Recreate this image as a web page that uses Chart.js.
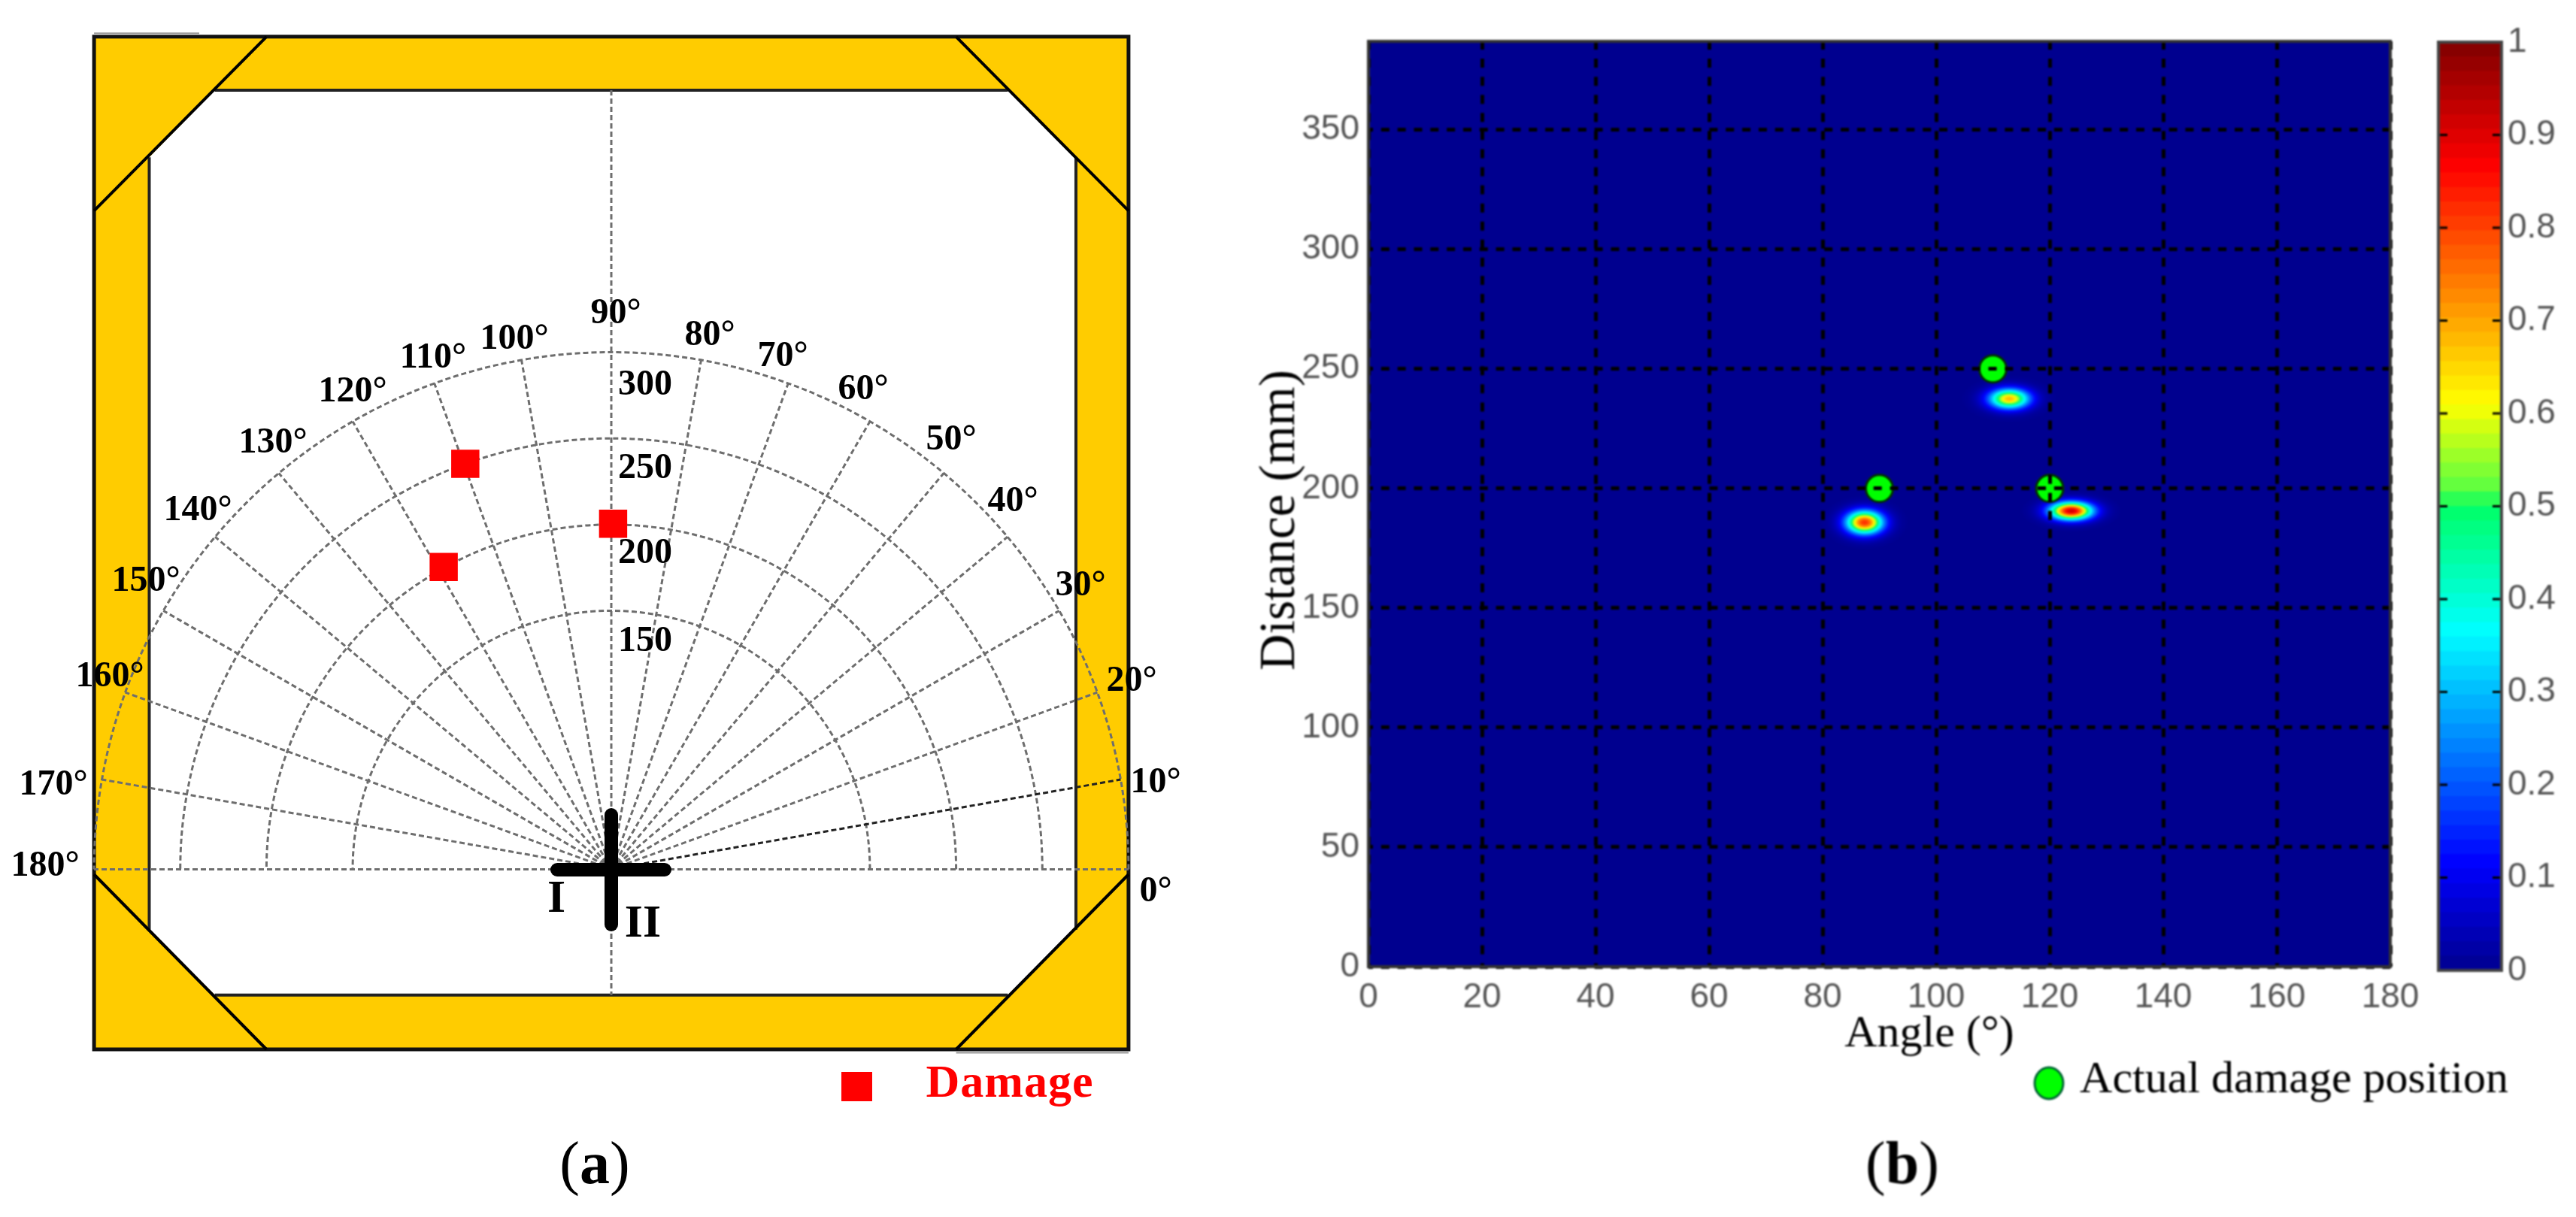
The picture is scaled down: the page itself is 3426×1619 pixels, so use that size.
<!DOCTYPE html>
<html><head><meta charset="utf-8">
<style>
html,body{margin:0;padding:0;background:#fff;width:3426px;height:1619px;overflow:hidden}
canvas{position:absolute;top:0}
#a{filter:blur(0.7px)}
#b,#c{filter:blur(1.1px)}
</style>
<script src="https://cdn.jsdelivr.net/npm/chart.js@4/dist/chart.umd.min.js"></script>
</head><body>
<canvas id="a" width="1700" height="1619" style="left:0;width:1700px;height:1619px"></canvas>
<canvas id="b" width="1786" height="1619" style="left:1640px;width:1786px;height:1619px"></canvas>
<canvas id="c" width="226" height="1619" style="left:3200px;width:226px;height:1619px"></canvas>
<script>
// ---- panel (a) values
const gridAngles = [0,10,20,30,40,50,60,70,80,90,100,110,120,130,140,150,160,170,180];
const gridRadii = [150,200,250,300];
const radiusLabels = ['300','250','200','150'];
const damageAngle = [109.8,119,89.7];
const damageDistance = [250,200.5,200.5];
// ---- panel (b) values
const angleTicks = [0,20,40,60,80,100,120,140,160,180];
const distanceTicks = [0,50,100,150,200,250,300,350];
const actualAngle = [90,110,120];
const actualDistance = [200,250,200];
const peakAngle = [87.4,112.9,123.8];
const peakDistance = [185.8,237.5,190.6];
const peakValue = [0.82,0.68,0.92];
const peakSpreadAngle = [2.22,2.43,2.55];
const peakSpreadDistance = [3.3,2.86,2.54];
// ---- colour ramp
const rampStops = [0,0.115,0.365,0.5,0.515,0.61,0.865,1];
const rampColors = [[0,0,143],[0,0,255],[0,255,255],[0,255,102],[85,255,68],[255,255,0],[255,0,0],[128,0,0]];
const RAMP_LEVELS = 64;

function ramp(v){
  v=Math.max(0,Math.min(1,v));
  for(let i=1;i<rampStops.length;i++){
    if(v<=rampStops[i]){
      const t=(v-rampStops[i-1])/(rampStops[i]-rampStops[i-1]);
      const c=rampColors[i-1].map((a,k)=>Math.round(a+(rampColors[i][k]-a)*t));
      return `rgb(${c[0]},${c[1]},${c[2]})`;
    }
  }
  return 'rgb(128,0,0)';
}
const SERIF='"Liberation Serif"', NARROW='"Liberation Sans Narrow","Liberation Sans"';
function label(ctx,text,x,y,font,color,rot){
  ctx.save();ctx.translate(x,y);if(rot)ctx.rotate(rot);
  ctx.font=font;ctx.fillStyle=color||'#000';ctx.textAlign='center';ctx.textBaseline='middle';
  ctx.fillText(text,0,0);ctx.restore();
}
function caption(ctx,letter,cx,y){
  ctx.save();ctx.textBaseline='middle';ctx.textAlign='left';ctx.fillStyle='#000';
  const reg=`80px ${SERIF}`,bold=`bold 80px ${SERIF}`;
  ctx.font=reg;const p1=ctx.measureText('(').width,p2=ctx.measureText(')').width;
  ctx.font=bold;const w=ctx.measureText(letter).width;
  let x=cx-(p1+w+p2)/2;
  ctx.font=reg;ctx.fillText('(',x,y);x+=p1;
  ctx.font=bold;ctx.fillText(letter,x,y);x+=w;
  ctx.font=reg;ctx.fillText(')',x,y);ctx.restore();
}
// label placement, in page pixels, order follows gridAngles
const angleLabelAt=[[1537,1187],[1537,1042],[1505,907],[1437,780],[1347,668],[1265,586],[1148,519],[1041,475],[944,447],[819,418],[684,452],[576,477],[469,522],[363,590],[263,680],[194,774],[146,901],[71,1045],[60,1153]];
const radiusLabelAt=[[858,513],[858,624],[858,737],[858,854]];

const platePlugin={id:'plate',beforeDatasetsDraw(chart){
  const {ctx,scales:{x,y}}=chart;
  const X=v=>x.getPixelForValue(v),Y=v=>y.getPixelForValue(v);
  const poly=(pts,close)=>{ctx.beginPath();pts.forEach((p,i)=>i?ctx.lineTo(X(p[0]),Y(p[1])):ctx.moveTo(X(p[0]),Y(p[1])));if(close)ctx.closePath();};
  ctx.save();
  // plate
  poly([[-300,483],[300,483],[300,-104.5],[-300,-104.5]],true);
  ctx.fillStyle='#FFCC00';ctx.fill();ctx.lineWidth=5;ctx.strokeStyle='#111';ctx.stroke();
  ctx.lineWidth=2;ctx.strokeStyle='#999';
  poly([[-300,485],[-239,485]]);ctx.stroke();
  poly([[200,-106.5],[300,-106.5]]);ctx.stroke();
  poly([[-230,452],[230,452],[269.5,413],[269.5,-35],[230,-73],[-230,-73],[-268,-35],[-268,413]],true);
  ctx.fillStyle='#fff';ctx.fill();
  ctx.lineWidth=4;ctx.strokeStyle='#222';
  [[[-230,452],[230,452]],[[-230,-73],[230,-73]],[[-268,413],[-268,-35]],[[269.5,413],[269.5,-35]]].forEach(s=>{poly(s);ctx.stroke();});
  ctx.strokeStyle='#000';
  [[[-200,483],[-300,382]],[[200,483],[300,382]],[[-300,-3],[-200,-104.5]],[[300,-3],[200,-104.5]]].forEach(s=>{poly(s);ctx.stroke();});
  // polar grid
  ctx.setLineDash([7,4]);ctx.lineWidth=3;ctx.strokeStyle='#6e6e6e';
  const ox=X(0),oy=Y(0);
  gridRadii.forEach(r=>{ctx.beginPath();ctx.arc(ox,oy,X(r)-ox,0,-Math.PI,true);ctx.stroke();});
  gridAngles.forEach(a=>{
    if(a===90)return;
    const t=a*Math.PI/180,r0=300;
    ctx.strokeStyle=a===10?'#222':'#6e6e6e';
    ctx.beginPath();ctx.moveTo(ox,oy);ctx.lineTo(X(r0*Math.cos(t)),Y(r0*Math.sin(t)));ctx.stroke();
  });
  ctx.strokeStyle='#6e6e6e';
  poly([[0,452],[0,-73]]);ctx.stroke();
  ctx.setLineDash([]);
  // sensor cross
  ctx.strokeStyle='#000';ctx.lineWidth=18;ctx.lineCap='round';
  ctx.beginPath();ctx.moveTo(741,1157);ctx.lineTo(884,1157);ctx.stroke();
  ctx.beginPath();ctx.moveTo(813,1084);ctx.lineTo(813,1230);ctx.stroke();
  ctx.restore();
  // labels
  const f=`bold 48px ${SERIF}`;
  gridAngles.forEach((a,i)=>label(ctx,a+'°',angleLabelAt[i][0],angleLabelAt[i][1],f));
  radiusLabels.forEach((t,i)=>label(ctx,t,radiusLabelAt[i][0],radiusLabelAt[i][1],f));
  const f2=`bold 62px ${SERIF}`;
  label(ctx,'I',740,1197,f2);label(ctx,'II',855,1230,f2);
  // key
  ctx.fillStyle='#FF0000';ctx.fillRect(1119,1426,41,39);
  ctx.save();ctx.letterSpacing='1px';label(ctx,'Damage',1343,1443,`bold 62px ${SERIF}`,'#FF0000');ctx.restore();
  caption(ctx,'a',791,1553);
}};

new Chart(document.getElementById('a'),{
  type:'scatter',
  data:{datasets:[{label:'Damage',
    data:damageAngle.map((a,i)=>({x:damageDistance[i]*Math.cos(a*Math.PI/180),y:damageDistance[i]*Math.sin(a*Math.PI/180)})),
    pointStyle:'rect',pointRadius:26.5,pointHoverRadius:26.5,backgroundColor:'#FF0000',borderWidth:0}]},
  options:{responsive:false,animation:false,devicePixelRatio:1,
    layout:{padding:0,autoPadding:false},
    plugins:{legend:{display:false},tooltip:{enabled:false}},
    scales:{x:{type:'linear',display:false,min:-354.56,max:386.83},y:{type:'linear',display:false,min:-201.74,max:504.3}}},
  plugins:[platePlugin]
});

const heatPlugin={id:'heat',
  beforeDatasetsDraw(chart){
    const {ctx,chartArea:A,scales:{x,y}}=chart;
    ctx.save();
    ctx.fillStyle=ramp(0);ctx.fillRect(A.left,A.top,A.width,A.height);
    ctx.beginPath();ctx.rect(A.left,A.top,A.width,A.height);ctx.clip();
    peakAngle.forEach((a,i)=>{
      const px=x.getPixelForValue(a),py=y.getPixelForValue(peakDistance[i]);
      const sx=x.getPixelForValue(a+peakSpreadAngle[i])-px;
      const sy=py-y.getPixelForValue(peakDistance[i]+peakSpreadDistance[i]);
      ctx.save();ctx.translate(px,py);ctx.scale(sx,sy);
      const R=3.4,g=ctx.createRadialGradient(0,0,0,0,0,R);
      for(let k=0;k<=40;k++){const t=k/40,r=t*R;g.addColorStop(t,ramp(peakValue[i]*Math.exp(-r*r/2)));}
      ctx.fillStyle=g;ctx.beginPath();ctx.arc(0,0,R,0,Math.PI*2);ctx.fill();ctx.restore();
    });
    ctx.restore();
  },
  afterDraw(chart){
    const {ctx,chartArea:A}=chart;
    ctx.save();ctx.strokeStyle='#333';ctx.lineWidth=4;ctx.strokeRect(A.left,A.top,A.width,A.height);ctx.restore();
    const L=1640;
    label(ctx,'Distance (mm)',1703-L,692,`67px ${SERIF}`,'#000',-Math.PI/2);
    label(ctx,'Angle (°)',2566-L,1376,`60px ${SERIF}`,'#000');
    label(ctx,'Actual damage position',3051-L,1437,`60px ${SERIF}`,'#000');
    ctx.save();ctx.beginPath();ctx.ellipse(2725-L,1441,19,21,0,0,Math.PI*2);ctx.fillStyle='#00FF00';ctx.fill();
    ctx.lineWidth=3;ctx.strokeStyle='#063';ctx.stroke();ctx.restore();
    caption(ctx,'b',2530-L,1553);
  }};

const tickFont={family:NARROW,size:46};
new Chart(document.getElementById('b'),{
  type:'scatter',
  data:{datasets:[{label:'Actual damage position',
    data:actualAngle.map((a,i)=>({x:a,y:actualDistance[i]})),
    pointRadius:18,pointHoverRadius:18,backgroundColor:'#00FF00',borderColor:'#003300',borderWidth:3}]},
  options:{responsive:false,animation:false,devicePixelRatio:1,
    layout:{padding:{left:0,right:247,top:55,bottom:207},autoPadding:false},
    plugins:{legend:{display:false},tooltip:{enabled:false}},
    scales:{
      x:{type:'linear',min:0,max:180,
        afterFit(s){s.height=126;},
        afterBuildTicks(s){s.ticks=angleTicks.map(v=>({value:v}));},
        border:{display:false,dash:[12,12.07],dashOffset:1},
        grid:{z:1,color:'#000',lineWidth:5,drawTicks:false},
        ticks:{font:tickFont,color:'#555',padding:14,maxRotation:0,autoSkip:false}},
      y:{type:'linear',min:0,max:387,
        afterFit(s){s.width=180;},
        afterBuildTicks(s){s.ticks=distanceTicks.map(v=>({value:v}));},
        border:{display:false,dash:[11,10.83],dashOffset:5},
        grid:{z:1,color:'#000',lineWidth:5,drawTicks:false},
        ticks:{font:tickFont,color:'#555',padding:12,autoSkip:false}}
    }},
  plugins:[heatPlugin]
});

const colorbarPlugin={id:'cbar',afterDraw(chart){
  const {ctx,chartArea:A,scales:{y}}=chart;
  ctx.save();ctx.strokeStyle='#000';ctx.lineWidth=3;
  y.ticks.forEach(t=>{const p=y.getPixelForValue(t.value);
    if(t.value<=0)return;
    ctx.beginPath();ctx.moveTo(A.left,p);ctx.lineTo(A.left+12,p);ctx.moveTo(A.right-12,p);ctx.lineTo(A.right,p);ctx.stroke();});
  ctx.strokeStyle='#444';ctx.lineWidth=4;ctx.strokeRect(A.left,A.top,A.width,A.height);ctx.restore();
}};
const levelIndex=Array.from({length:RAMP_LEVELS},(_,i)=>i);
new Chart(document.getElementById('c'),{
  type:'bar',
  data:{labels:[''],datasets:levelIndex.map(i=>({
    data:[(i+1)/RAMP_LEVELS],backgroundColor:ramp((i+0.5)/RAMP_LEVELS),borderWidth:0,grouped:false,
    barPercentage:1,categoryPercentage:1}))},
  options:{responsive:false,animation:false,devicePixelRatio:1,
    layout:{padding:{left:43,top:56,bottom:328,right:0},autoPadding:false},
    plugins:{legend:{display:false},tooltip:{enabled:false}},
    scales:{
      x:{display:false},
      y:{position:'right',min:0,max:1,
        afterFit(s){s.width=99;},
        border:{display:false},grid:{display:false,drawTicks:false},
        ticks:{stepSize:0.1,font:tickFont,color:'#555',padding:8,callback:v=>String(Math.round(v*10)/10)}}
    }},
  plugins:[colorbarPlugin]
});
</script>
</body></html>
